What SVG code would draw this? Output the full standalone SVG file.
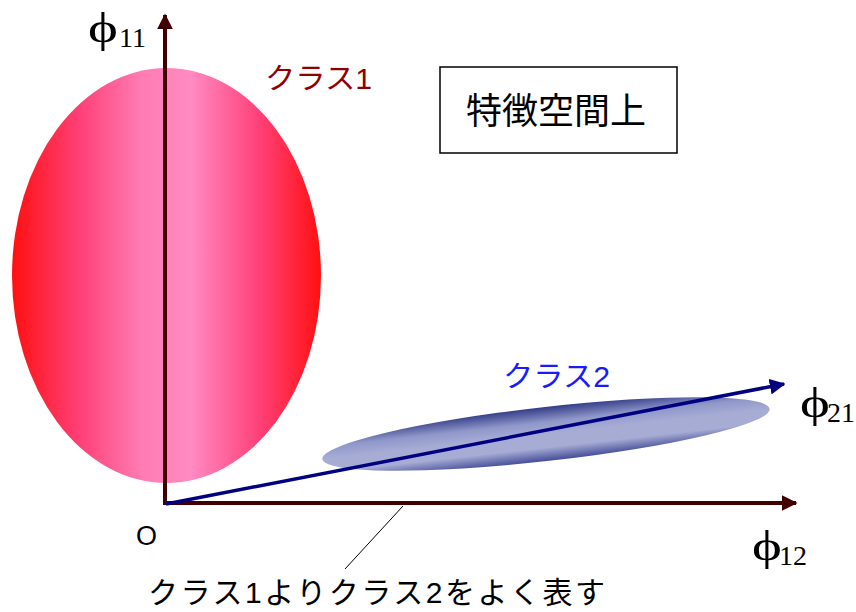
<svg xmlns="http://www.w3.org/2000/svg" width="856" height="612" viewBox="0 0 856 612">
<style>
.jp{font-family:"Liberation Sans","Noto Sans CJK JP",sans-serif}
.phi{font-family:"Liberation Serif","DejaVu Serif",serif;fill:#000}
</style>
<defs>
<linearGradient id="gPink" x1="0" y1="0" x2="1" y2="0">
<stop offset="0" stop-color="#FF1010"/>
<stop offset="0.22" stop-color="#FF4078"/>
<stop offset="0.42" stop-color="#FF7CB4"/>
<stop offset="0.58" stop-color="#FF8AC2"/>
<stop offset="0.8" stop-color="#FF4078"/>
<stop offset="1" stop-color="#FF1010"/>
</linearGradient>
<linearGradient id="gBlue" x1="0" y1="0" x2="0" y2="1">
<stop offset="0" stop-color="#343C88"/>
<stop offset="0.28" stop-color="#9098CA"/>
<stop offset="0.5" stop-color="#A6ACD4"/>
<stop offset="0.75" stop-color="#A6ACD4"/>
<stop offset="1" stop-color="#444C98"/>
</linearGradient>
<marker id="mBrown" viewBox="0 0 10 10" refX="9" refY="5" markerWidth="4" markerHeight="4" orient="auto" markerUnits="strokeWidth">
<path d="M0,0 L10,5 L0,10 Z" fill="#400000"/>
</marker>
<marker id="mNavy" viewBox="0 0 10 10" refX="9" refY="5" markerWidth="4.5" markerHeight="4.5" orient="auto" markerUnits="strokeWidth">
<path d="M0,0 L10,5 L0,10 Z" fill="#000080"/>
</marker>
</defs>
<rect width="856" height="612" fill="#fff"/>
<g id="class1-region">
<ellipse cx="166.5" cy="275.5" rx="154.5" ry="207.5" fill="url(#gPink)"/>
</g>
<g id="class2-region">
<ellipse cx="546" cy="434" rx="225" ry="27" transform="rotate(-6.4 546 434)" fill="url(#gBlue)"/>
</g>
<g id="connectors">
<line x1="165" y1="505" x2="165" y2="15" stroke="#400000" stroke-width="4" marker-end="url(#mBrown)"/>
<line x1="163" y1="503" x2="796" y2="503" stroke="#400000" stroke-width="4" marker-end="url(#mBrown)"/>
<line x1="166" y1="504" x2="784" y2="384" stroke="#000080" stroke-width="3.5" marker-end="url(#mNavy)"/>
<line x1="403" y1="506" x2="345" y2="569" stroke="#000" stroke-width="1"/>
</g>
<g id="label-phi11">
<text class="phi" font-size="42" transform="translate(88,42) scale(1.35,1)">ϕ</text>
<text class="phi" x="119" y="47" font-size="28">11</text>
</g>
<g id="label-class1"><text class="jp" x="265" y="89" font-size="29" textLength="107" lengthAdjust="spacingAndGlyphs" fill="#900000">クラス1</text></g>
<g id="box-feature-space">
<rect x="440" y="67" width="237" height="86" fill="#fff" stroke="#000" stroke-width="1.5"/>
<text class="jp" x="556" y="124" font-size="36" text-anchor="middle" fill="#000">特徴空間上</text>
</g>
<g id="label-class2"><text class="jp" x="503" y="387" font-size="29" textLength="107" lengthAdjust="spacingAndGlyphs" fill="#1A1AFF">クラス2</text></g>
<g id="label-phi21">
<text class="phi" font-size="42" transform="translate(800,417) scale(1.35,1)">ϕ</text>
<text class="phi" x="827" y="422" font-size="28">21</text>
</g>
<g id="label-origin"><text class="jp" x="136" y="545" font-size="27" fill="#000">O</text></g>
<g id="label-phi12">
<text class="phi" font-size="42" transform="translate(752,560) scale(1.35,1)">ϕ</text>
<text class="phi" x="779" y="565" font-size="28">12</text>
</g>
<g id="label-note"><text class="jp" x="148" y="603" font-size="30" textLength="457" lengthAdjust="spacing" fill="#000">クラス1よりクラス2をよく表す</text></g>
</svg>
